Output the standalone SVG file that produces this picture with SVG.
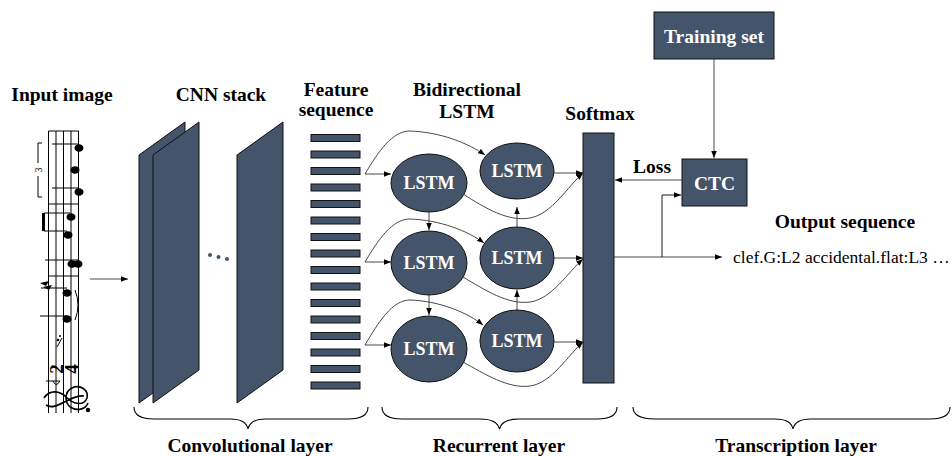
<svg xmlns="http://www.w3.org/2000/svg" width="952" height="456" viewBox="0 0 952 456">
<style>
.t{font-family:"Liberation Serif","Times New Roman",serif;font-weight:bold;font-size:19.5px;fill:#000;text-anchor:middle}
.w{font-family:"Liberation Serif","Times New Roman",serif;font-weight:bold;fill:#fff;text-anchor:middle}
.shape{fill:#44546A;stroke:#111;stroke-width:1}
.c{fill:none;stroke:#333;stroke-width:0.9}
.mus{stroke:#000;stroke-width:1;fill:none}
.brace{fill:none;stroke:#000;stroke-width:1.1}
</style>
<defs>
<marker id="ah" viewBox="0 0 10 10" refX="10" refY="5" markerWidth="7" markerHeight="5.5" markerUnits="userSpaceOnUse" orient="auto" preserveAspectRatio="none"><path d="M0,0 L10,5 L0,10 z" fill="#000"/></marker>
</defs>
<rect width="952" height="456" fill="#fff"/>

<!-- Titles -->
<g id="titles">
<text class="t" x="62" y="101">Input image</text>
<text class="t" x="221" y="101">CNN stack</text>
<text class="t" x="336" y="96">Feature</text>
<text class="t" x="336" y="116">sequence</text>
<text class="t" x="467" y="96">Bidirectional</text>
<text class="t" x="467" y="118">LSTM</text>
<text class="t" x="600" y="120">Softmax</text>
<text class="t" x="652" y="173">Loss</text>
<text class="t" x="845" y="228">Output sequence</text>
<text x="733" y="263" style="font-family:'Liberation Serif','Times New Roman',serif;font-size:17.5px">clef.G:L2 accidental.flat:L3 …</text>
</g>

<!-- Input image (rotated score) -->
<g id="input-image">
<g class="mus">
<path d="M48.5,131 V413 M56,131 V413 M63.5,131 V413 M71,131 V413 M78.5,131 V413"/>
<path d="M48.5,131 H78.5 M48.5,204 H78.5 M48.5,276 H78.5"/>
<path d="M52,144 H79 M52,188 H79 M44,213 H70 M44,231 H67 M45,260 H79 M41,288 H67 M40,316 H67"/>
<path d="M42,143 H38 V163 M38,176 V197 H42"/>
<path d="M75,290 Q81,305 75,320"/>
<path d="M57,347 L62,338 M46,381 H60 M60,381 Q56,388 53,381"/>
<path d="M44,398 C50,389 60,391 66,397 C74,405 84,406 87,398 C89,390 80,384 72,388 C64,392 64,404 72,408 C78,411 86,409 88,403 M46,405 C56,412 70,394 84,396" stroke-width="1.6"/>
</g>
<rect x="42" y="213" width="3" height="18" fill="#000"/>
<path d="M40,283 L49,281 L46,286 Z M43,287 L52,285 L49,290 Z" fill="#000"/>
<circle cx="58" cy="340" r="1.3" fill="#000"/>
<circle cx="60" cy="336" r="1" fill="#000"/>
<circle cx="88" cy="410" r="2.2" fill="#000"/>
<g fill="#000">
<ellipse cx="79" cy="148" rx="4.5" ry="3.8"/>
<ellipse cx="75" cy="170" rx="4.5" ry="3.8"/>
<ellipse cx="79" cy="192" rx="4.5" ry="3.8"/>
<ellipse cx="71" cy="217" rx="4.5" ry="3.8"/>
<ellipse cx="68" cy="235" rx="4.5" ry="3.8"/>
<ellipse cx="72" cy="264" rx="4.5" ry="3.8"/>
<ellipse cx="78" cy="264" rx="4.5" ry="3.8"/>
<ellipse cx="67" cy="293" rx="4.5" ry="3.8"/>
<ellipse cx="67" cy="319" rx="4.5" ry="3.8"/>
</g>
<text transform="translate(42,170) rotate(-90)" style="font-family:'Liberation Serif',serif;font-size:10px" text-anchor="middle">3</text>
<text transform="translate(63,369) rotate(-90)" style="font-family:'Liberation Serif',serif;font-size:19px;font-weight:bold" text-anchor="middle">2</text>
<text transform="translate(78,369) rotate(-90)" style="font-family:'Liberation Serif',serif;font-size:19px;font-weight:bold" text-anchor="middle">4</text>
</g>

<!-- CNN stack -->
<g id="cnn-stack">
<polygon class="shape" points="139,155 185,122 185,370 139,403"/>
<polygon class="shape" points="153,155 199,122 199,370 153,403"/>
<polygon class="shape" points="237,155 283,122 283,370 237,403"/>
<circle cx="210" cy="255" r="2" fill="#44546A"/>
<circle cx="218.5" cy="257" r="2" fill="#44546A"/>
<circle cx="227" cy="259" r="2" fill="#44546A"/>
</g>

<!-- Feature sequence -->
<g id="feature-sequence" class="shape">
<rect x="311" y="134.5" width="49" height="7"/>
<rect x="311" y="151" width="49" height="7"/>
<rect x="311" y="167.5" width="49" height="7"/>
<rect x="311" y="184" width="49" height="7"/>
<rect x="311" y="200.5" width="49" height="7"/>
<rect x="311" y="217" width="49" height="7"/>
<rect x="311" y="233.5" width="49" height="7"/>
<rect x="311" y="250" width="49" height="7"/>
<rect x="311" y="266.5" width="49" height="7"/>
<rect x="311" y="283" width="49" height="7"/>
<rect x="311" y="299.5" width="49" height="7"/>
<rect x="311" y="316" width="49" height="7"/>
<rect x="311" y="332.5" width="49" height="7"/>
<rect x="311" y="349" width="49" height="7"/>
<rect x="311" y="365.5" width="49" height="7"/>
<rect x="311" y="382" width="49" height="7"/>
</g>

<!-- LSTM nodes -->
<g id="lstm-f1"><ellipse class="shape" cx="429" cy="183" rx="38" ry="29"/><text class="w" x="429" y="189" font-size="18">LSTM</text></g>
<g id="lstm-b1"><ellipse class="shape" cx="517" cy="171" rx="37" ry="28"/><text class="w" x="517" y="177" font-size="18">LSTM</text></g>
<g id="lstm-f2"><ellipse class="shape" cx="429" cy="263" rx="38" ry="32"/><text class="w" x="429" y="269" font-size="18">LSTM</text></g>
<g id="lstm-b2"><ellipse class="shape" cx="517" cy="258" rx="37" ry="31"/><text class="w" x="517" y="264" font-size="18">LSTM</text></g>
<g id="lstm-f3"><ellipse class="shape" cx="429" cy="349" rx="38" ry="33"/><text class="w" x="429" y="355" font-size="18">LSTM</text></g>
<g id="lstm-b3"><ellipse class="shape" cx="517" cy="341" rx="37" ry="31"/><text class="w" x="517" y="347" font-size="18">LSTM</text></g>

<!-- Softmax -->
<g id="softmax"><rect class="shape" x="583" y="133" width="31" height="250"/></g>

<!-- Training set -->
<g id="training-set"><rect class="shape" x="654" y="12" width="120" height="47"/><text class="w" x="714" y="43" font-size="19.5">Training set</text></g>

<!-- CTC -->
<g id="ctc"><rect class="shape" x="682" y="159" width="65" height="47"/><text class="w" x="714.5" y="190" font-size="19.5">CTC</text></g>

<!-- Connectors -->
<g id="connectors" class="c">
<path d="M90,279 H128" marker-end="url(#ah)"/>
<path d="M365,174 H391" marker-end="url(#ah)"/>
<path d="M365,174 C378,152 392,131 410,131 C440,132 468,143 485,155" marker-end="url(#ah)"/>
<path d="M463,194 C485,208 508,222 530,218 C552,214 568,186 583,173" marker-end="url(#ah)"/>
<path d="M554,173 H583" marker-end="url(#ah)"/>
<path d="M429,212 V230" marker-end="url(#ah)"/>
<path d="M517,227 V207" marker-end="url(#ah)"/>

<path d="M365,262 H391" marker-end="url(#ah)"/>
<path d="M365,262 C378,240 392,219 410,219 C440,220 468,231 484,243" marker-end="url(#ah)"/>
<path d="M463,277 C485,290 508,305 530,302 C552,299 568,272 583,259" marker-end="url(#ah)"/>
<path d="M554,258 H583" marker-end="url(#ah)"/>
<path d="M429,295 V315" marker-end="url(#ah)"/>
<path d="M517,310 V290" marker-end="url(#ah)"/>

<path d="M365,345 H391" marker-end="url(#ah)"/>
<path d="M365,345 C378,323 392,300 410,300 C440,301 468,313 483,325" marker-end="url(#ah)"/>
<path d="M463,362 C485,374 508,389 530,386 C552,383 568,355 583,342" marker-end="url(#ah)"/>
<path d="M554,342 H583" marker-end="url(#ah)"/>

<path d="M614,257 H722" marker-end="url(#ah)"/>
<path d="M662,257 V195 H681" marker-end="url(#ah)" style="stroke:#000"/>
<path d="M682,180 H615" marker-end="url(#ah)"/>
<path d="M714,59 V158" marker-end="url(#ah)"/>
</g>

<!-- Braces and layer labels -->
<g id="layer-labels">
<path class="brace" d="M134,407 Q134,419 154,419 L230,419 Q246,419 248,429 Q250,419 266,419 L348,419 Q368,419 368,407"/>
<path class="brace" d="M382,407 Q382,419 402,419 L480,419 Q497,419 499.5,429 Q502,419 519,419 L597,419 Q617,419 617,407"/>
<path class="brace" d="M633,407 Q633,419 655,419 L775,419 Q791,419 793,429 Q795,419 811,419 L930,419 Q950,419 950,407"/>
<text class="t" x="250" y="452">Convolutional layer</text>
<text class="t" x="499" y="452">Recurrent layer</text>
<text class="t" x="796" y="452">Transcription layer</text>
</g>
</svg>
